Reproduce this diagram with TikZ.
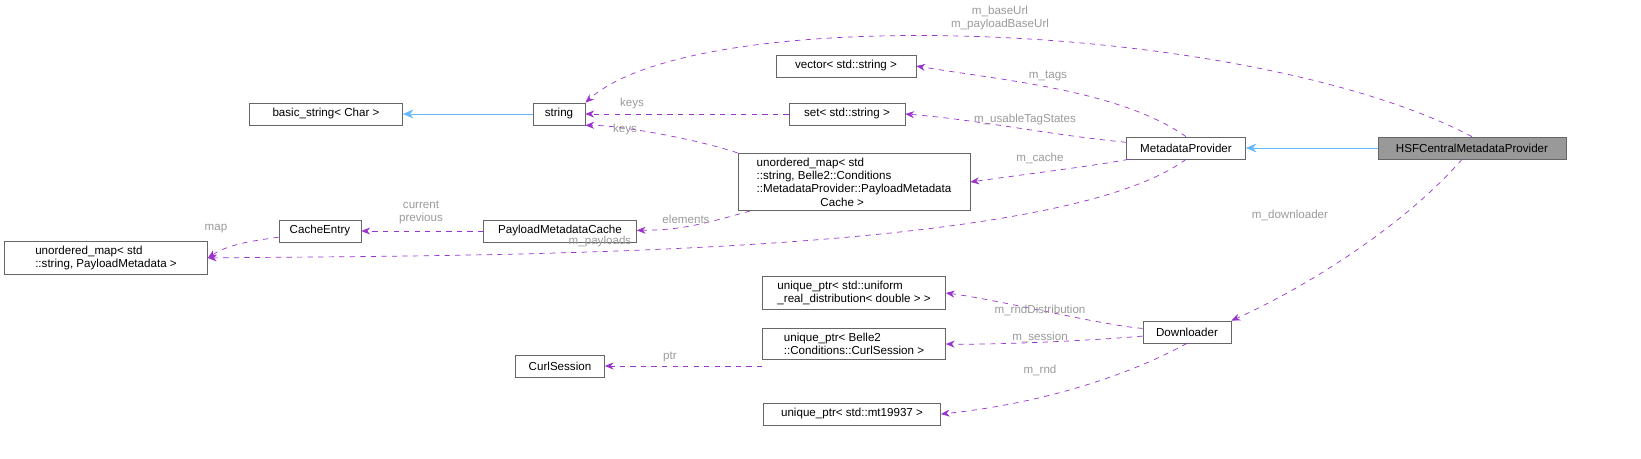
\documentclass[tikz,border=0pt]{standalone}
\usepackage{fontspec}
\setmainfont{Liberation Sans}
\usetikzlibrary{arrows.meta}
\definecolor{member}{HTML}{9A32CD}
\definecolor{inherit}{HTML}{63B8FF}
\definecolor{lbl}{HTML}{9A9A9A}
\tikzset{
  cls/.style={draw=black!60,fill=white,font=\fontsize{6.6}{7.6}\selectfont,inner sep=2.5pt,align=center,minimum height=22*0.02cm},
  use/.style={draw=member,dashed,-{Stealth[length=5pt,width=4pt]}},
  isa/.style={draw=inherit,-{Stealth[length=6pt,width=5pt]}},
  lab/.style={text=lbl,font=\fontsize{6.6}{7.4}\selectfont,inner sep=0pt,align=center},
}
\begin{document}
\begin{tikzpicture}[x=0.02cm,y=-0.02cm]
   \useasboundingbox (0,0) rectangle (1641,459);
   % classes
   \node[cls,fill=black!40,minimum width=188*0.02cm] (hsf) at (1472,148) {HSFCentralMetadataProvider};
   \node[cls,minimum width=119*0.02cm] (mdp) at (1186,148) {MetadataProvider};
   \node[cls,minimum width=140*0.02cm] (vec) at (846,66) {vector< std::string >};
   \node[cls,minimum width=116*0.02cm] (set) at (847,114) {set< std::string >};
   \node[cls,minimum width=232*0.02cm,align=left] (cmap) at (854,182) {unordered\_map< std\\::string, Belle2::Conditions\\::MetadataProvider::PayloadMetadata\\\hspace*{5.5em}Cache >};
   \node[cls,minimum width=52*0.02cm] (str) at (559,114) {string};
   \node[cls,minimum width=153*0.02cm] (bstr) at (326,114) {basic\_string< Char >};
   \node[cls,minimum width=153*0.02cm] (pmc) at (560,231) {PayloadMetadataCache};
   \node[cls,minimum width=82*0.02cm] (ce) at (320,231) {CacheEntry};
   \node[cls,minimum width=203*0.02cm,align=left] (pmap) at (106,258) {unordered\_map< std\\::string, PayloadMetadata >};
   \node[cls,minimum width=88*0.02cm] (dl) at (1187,332) {Downloader};
   \node[cls,minimum width=183*0.02cm,align=left] (urd) at (854,293) {unique\_ptr< std::uniform\\\_real\_distribution< double > >};
   \node[cls,minimum width=183*0.02cm,align=left] (ucs) at (854,344) {unique\_ptr< Belle2\\::Conditions::CurlSession >};
   \node[cls,minimum width=89*0.02cm] (cs) at (560,366) {CurlSession};
   \node[cls,minimum width=177*0.02cm] (umt) at (852,414) {unique\_ptr< std::mt19937 >};
   % inheritance
   \draw[isa] (hsf) -- (mdp);
   \draw[isa] (str) -- (bstr);
   % members
   \draw[use] (hsf.north) .. controls (1250,20) and (700,0) .. (str.north east);
   \draw[use] (hsf) .. controls (1400,230) and (1300,290) .. (dl.north east);
   \draw[use] (mdp.north) .. controls (1120,90) and (1000,80) .. (vec.east);
   \draw[use] (mdp) .. controls (1050,135) and (980,120) .. (set.east);
   \draw[use] (mdp) .. controls (1100,165) and (1020,175) .. (cmap.east);
   \draw[use] (mdp.south) .. controls (1050,260) and (450,255) .. (pmap.east);
   \draw[use] (set) -- (str);
   \draw[use] (cmap.north west) .. controls (700,140) and (620,125) .. (str.south east);
   \draw[use] (cmap) .. controls (700,225) and (680,230) .. (pmc);
   \draw[use] (pmc) -- (ce);
   \draw[use] (ce) .. controls (260,240) and (230,243) .. (pmap.east);
   \draw[use] (dl) .. controls (1100,325) and (1000,300) .. (urd.east);
   \draw[use] (dl) .. controls (1100,340) and (1000,345) .. (ucs.east);
   \draw[use] (dl.south) .. controls (1120,380) and (1030,405) .. (umt.east);
   \draw[use] (ucs.west |- cs) -- (cs);
   % labels
   \node[lab] (lurl) at (1000,18) {m\_baseUrl\\m\_payloadBaseUrl};
   \node[lab] (ldl) at (1290,215) {m\_downloader};
   \node[lab] (ltags) at (1048,76) {m\_tags};
   \node[lab] (lusable) at (1025,120) {m\_usableTagStates};
   \node[lab] (lcache) at (1040,158) {m\_cache};
   \node[lab] (lpay) at (600,242) {m\_payloads};
   \node[lab] (lkeys) at (632,104) {keys};
   \node[lab] (lkeysb) at (625,130) {keys};
   \node[lab] (lelem) at (686,219) {elements};
   \node[lab] (lcur) at (421,212) {current\\previous};
   \node[lab] (lmap) at (216,229) {map};
   \node[lab] (lrnd) at (1040,310) {m\_rndDistribution};
   \node[lab] (lses) at (1040,337) {m\_session};
   \node[lab] (lmt) at (1040,370) {m\_rnd};
   \node[lab] (lptr) at (670,357) {ptr};
\end{tikzpicture}
\end{document}
